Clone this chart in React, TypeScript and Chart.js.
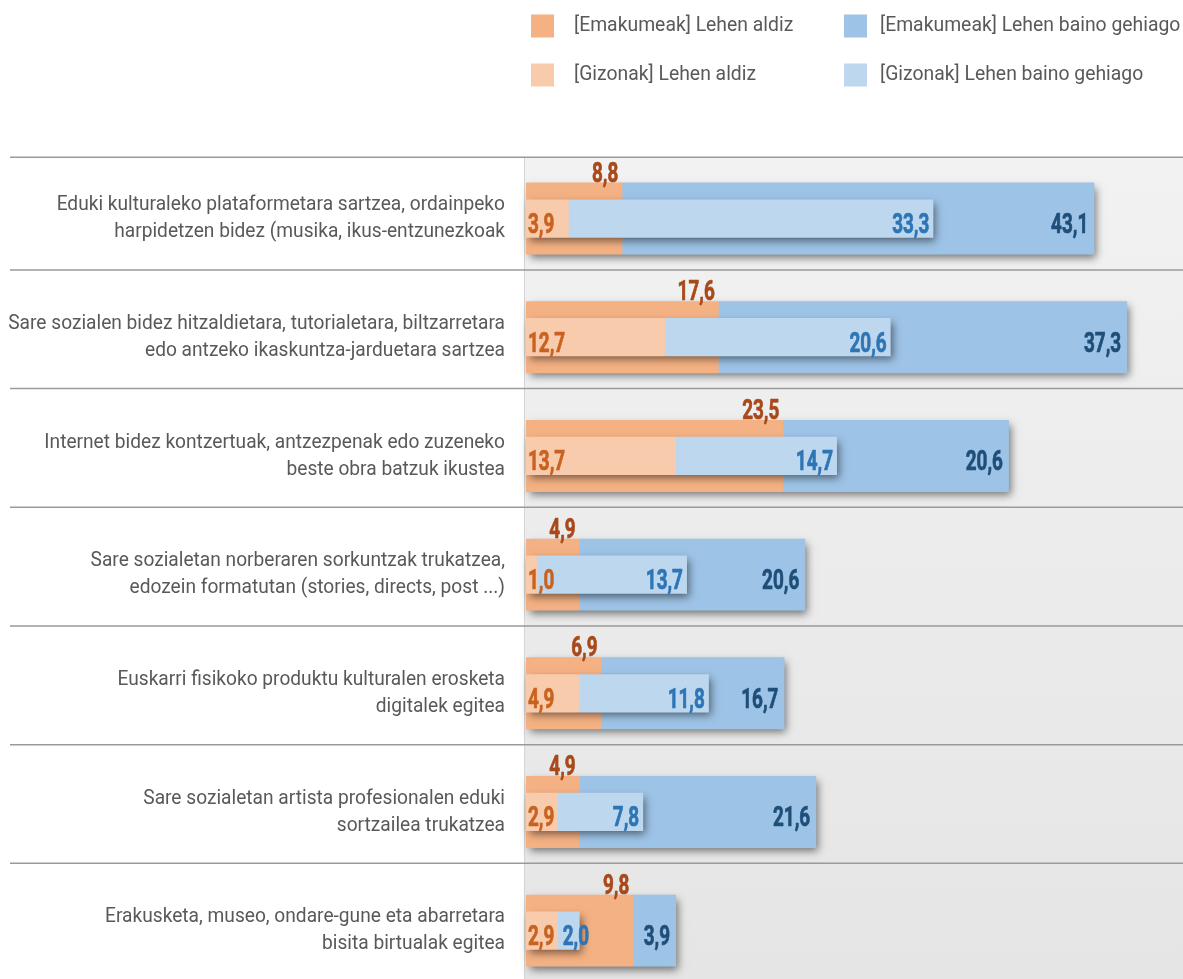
import React, { useEffect, useRef } from "react";
import { Chart, registerables } from "chart.js";

Chart.register(...registerables);

const FONT = "Roboto, 'Noto Sans', sans-serif";

const categories: string[][] = [
  ["Eduki kulturaleko plataformetara sartzea, ordainpeko", "harpidetzen bidez (musika, ikus-entzunezkoak"],
  ["Sare sozialen bidez hitzaldietara, tutorialetara, biltzarretara", "edo antzeko ikaskuntza-jarduetara sartzea"],
  ["Internet bidez kontzertuak, antzezpenak edo zuzeneko", "beste obra batzuk ikustea"],
  ["Sare sozialetan norberaren sorkuntzak trukatzea,", "edozein formatutan (stories, directs, post ...)"],
  ["Euskarri fisikoko produktu kulturalen erosketa", "digitalek egitea"],
  ["Sare sozialetan artista profesionalen eduki", "sortzailea trukatzea"],
  ["Erakusketa, museo, ondare-gune eta abarretara", "bisita birtualak egitea"],
];

const womenFirst = [8.8, 17.6, 23.5, 4.9, 6.9, 4.9, 9.8];
const womenMore = [43.1, 37.3, 20.6, 20.6, 16.7, 21.6, 3.9];
const menFirst = [3.9, 12.7, 13.7, 1.0, 4.9, 2.9, 2.9];
const menMore = [33.3, 20.6, 14.7, 13.7, 11.8, 7.8, 2.0];

const seriesLabels = [
  "[Emakumeak] Lehen aldiz",
  "[Emakumeak] Lehen baino gehiago",
  "[Gizonak] Lehen aldiz",
  "[Gizonak] Lehen baino gehiago",
];

const fmt = (v: number) => v.toFixed(1).replace(".", ",");

const TEXT_FONT = `21px ${FONT}`;
const CAT_SX = 0.912;
const LEG_SX = 0.922;
const TEXT_COLOR = "#595959";

function drawScaledText(
  ctx: CanvasRenderingContext2D,
  text: string,
  x: number,
  y: number,
  align: "left" | "right",
  font: string,
  sx: number,
  color: string,
  baseline: CanvasTextBaseline = "alphabetic",
  strokeW = 0
) {
  ctx.save();
  ctx.font = font;
  ctx.fillStyle = color;
  ctx.textBaseline = baseline;
  ctx.textAlign = "left";
  const w = ctx.measureText(text).width * sx;
  const left = align === "right" ? x - w : x;
  ctx.translate(left, y);
  ctx.scale(sx, 1);
  ctx.fillText(text, 0, 0);
  if (strokeW > 0) {
    ctx.strokeStyle = color;
    ctx.lineWidth = strokeW;
    ctx.lineJoin = "round";
    ctx.strokeText(text, 0, 0);
  }
  ctx.restore();
  return w;
}

function measureScaled(ctx: CanvasRenderingContext2D, text: string, font: string, sx: number) {
  ctx.save();
  ctx.font = font;
  const w = ctx.measureText(text).width * sx;
  ctx.restore();
  return w;
}

const bgPlugin = {
  id: "bgSep",
  beforeDraw(chart: any) {
    const { ctx, chartArea: a, width, height } = chart;
    const ys = chart.scales.y;
    const n = chart.data.labels.length;
    const band = (a.bottom - a.top) / n;
    const top = a.top - 2;
    ctx.save();
    ctx.fillStyle = "#ffffff";
    ctx.fillRect(0, 0, width, height);
    const g = ctx.createLinearGradient(0, top, 0, 979);
    g.addColorStop(0, "#f2f2f2");
    g.addColorStop(1, "#e6e5e5");
    ctx.fillStyle = g;
    ctx.fillRect(a.left - 1, top, width - a.left + 1, height - top);
    ctx.strokeStyle = "#d4d4d4";
    ctx.lineWidth = 1;
    ctx.beginPath();
    ctx.moveTo(a.left - 1.5, top);
    ctx.lineTo(a.left - 1.5, height);
    ctx.stroke();
    ctx.strokeStyle = "#9a9a9a";
    ctx.lineWidth = 1.5;
    for (let i = 0; i < n; i++) {
      const yy = i === 0 ? top : ys.getPixelForTick(i) - band / 2 - 8;
      ctx.beginPath();
      ctx.moveTo(10, yy);
      ctx.lineTo(width, yy);
      ctx.stroke();
    }
    ctx.restore();
  },
};

const categoryLabelPlugin = {
  id: "catLabels",
  afterDraw(chart: any) {
    const ctx = chart.ctx;
    const ys = chart.scales.y;
    const x = chart.chartArea.left - 21;
    chart.data.labels.forEach((lines: string[], i: number) => {
      const yc = ys.getPixelForTick(i);
      lines.forEach((line, j) => {
        const yy = yc + (j - (lines.length - 1) / 2) * 27;
        drawScaledText(ctx, line, x, yy, "right", TEXT_FONT, CAT_SX, TEXT_COLOR, "middle");
      });
    });
  },
};

const shadowPlugin = {
  id: "groupShadow",
  _done: new Set<string>(),
  beforeDatasetsDraw() {
    (shadowPlugin as any)._done = new Set<string>();
  },
  beforeDatasetDraw(chart: any, args: any) {
    const done: Set<string> = (shadowPlugin as any)._done;
    const ds = chart.data.datasets[args.index];
    const stack = ds.stack;
    if (done.has(stack)) return;
    done.add(stack);
    const members = chart.data.datasets
      .map((d: any, i: number) => ({ d, i }))
      .filter((o: any) => o.d.stack === stack);
    const ctx = chart.ctx;
    const n = chart.data.labels.length;
    for (let k = 0; k < n; k++) {
      let left = Infinity, right = -Infinity, top = 0, bottom = 0;
      members.forEach((o: any) => {
        const el: any = chart.getDatasetMeta(o.i).data[k];
        if (!el) return;
        left = Math.min(left, el.base, el.x);
        right = Math.max(right, el.base, el.x);
        top = el.y - el.height / 2;
        bottom = el.y + el.height / 2;
      });
      if (!isFinite(left)) continue;
      ctx.save();
      ctx.shadowColor = "rgba(0,0,0,0.5)";
      ctx.shadowBlur = 8;
      ctx.shadowOffsetX = 3;
      ctx.shadowOffsetY = 4;
      ctx.fillStyle = members[members.length - 1].d.backgroundColor;
      ctx.fillRect(left + 1, top + 1, right - left - 2, bottom - top - 2);
      ctx.restore();
    }
  },
};

const LABEL_FONT = `bold 27px ${FONT}`;
const LABEL_SX = 0.7;
const LABEL_STROKE = 0.7;
const labelColors = ["#A9491A", "#1F4E79", "#C9621F", "#2E75B6"];

const valueLabelPlugin = {
  id: "valueLabels",
  afterDatasetsDraw(chart: any) {
    const ctx = chart.ctx;
    chart.data.datasets.forEach((ds: any, di: number) => {
      const meta = chart.getDatasetMeta(di);
      meta.data.forEach((el: any, i: number) => {
        const v = ds.data[i];
        const txt = fmt(v);
        const start = Math.min(el.x, el.base);
        const end = Math.max(el.x, el.base);
        const top = el.y - el.height / 2;
        const color = labelColors[di];
        if (di === 0) {
          drawScaledText(ctx, txt, end - 4, top - 1, "right", LABEL_FONT, LABEL_SX, color, "alphabetic", LABEL_STROKE);
        } else if (di === 1) {
          drawScaledText(ctx, txt, end - 6, el.y + 14.5, "right", LABEL_FONT, LABEL_SX, color, "alphabetic", LABEL_STROKE);
        } else if (di === 2) {
          drawScaledText(ctx, txt, start + 2, el.y + 14.5, "left", LABEL_FONT, LABEL_SX, color, "alphabetic", LABEL_STROKE);
        } else {
          const w = measureScaled(ctx, txt, LABEL_FONT, LABEL_SX);
          const left = Math.max(end - 4 - w, start + 5);
          drawScaledText(ctx, txt, left, el.y + 14.5, "left", LABEL_FONT, LABEL_SX, color, "alphabetic", LABEL_STROKE);
        }
      });
    });
  },
};

const legendPlugin = {
  id: "gridLegend",
  afterDraw(chart: any) {
    const ctx = chart.ctx;
    const boxX = [531, 844];
    const textX = [574, 880];
    const rowY = [26, 75];
    chart.data.datasets.forEach((d: any, i: number) => {
      const c = i % 2;
      const y = rowY[Math.floor(i / 2)];
      ctx.save();
      ctx.fillStyle = d.backgroundColor;
      ctx.fillRect(boxX[c], y - 11.5, 23, 23);
      ctx.restore();
      drawScaledText(ctx, d.label, textX[c], y, "left", TEXT_FONT, LEG_SX, TEXT_COLOR, "middle");
    });
  },
};

export default function App() {
  const ref = useRef<HTMLCanvasElement>(null);
  useEffect(() => {
    document.body.style.margin = "0";
    const W_BAR = 0.606;
    const M_BAR = 0.322;
    const common = { grouped: false, categoryPercentage: 1, borderWidth: 0 };
    const chart = new Chart(ref.current as HTMLCanvasElement, {
      type: "bar",
      data: {
        labels: categories,
        datasets: [
          { ...common, label: seriesLabels[0], data: womenFirst, backgroundColor: "#F4B183", stack: "w", order: 1, barPercentage: W_BAR } as any,
          { ...common, label: seriesLabels[1], data: womenMore, backgroundColor: "#9DC3E6", stack: "w", order: 1, barPercentage: W_BAR } as any,
          { ...common, label: seriesLabels[2], data: menFirst, backgroundColor: "#F8CBAD", stack: "m", order: 0, barPercentage: M_BAR } as any,
          { ...common, label: seriesLabels[3], data: menMore, backgroundColor: "#BDD7EE", stack: "m", order: 0, barPercentage: M_BAR } as any,
        ],
      },
      options: {
        indexAxis: "y",
        responsive: false,
        animation: false,
        devicePixelRatio: 1,
        layout: { padding: { top: 159.2, left: 0, right: 0, bottom: 0 } },
        plugins: {
          legend: { display: false },
          tooltip: { enabled: false },
        },
        scales: {
          x: { type: "linear", stacked: true, min: 0, max: 60, display: false },
          y: {
            type: "category",
            stacked: true,
            position: "left",
            grid: { display: false, drawTicks: false },
            border: { display: false },
            ticks: { display: false, autoSkip: false },
            afterFit: (s: any) => {
              s.width = 526;
            },
          },
        },
      } as any,
      plugins: [bgPlugin, shadowPlugin, valueLabelPlugin, categoryLabelPlugin, legendPlugin] as any,
    });
    return () => chart.destroy();
  }, []);
  return (
    <div style={{ width: 1183, height: 979, overflow: "hidden" }}>
      <canvas ref={ref} width={1183} height={990} style={{ display: "block" }} />
    </div>
  );
}
